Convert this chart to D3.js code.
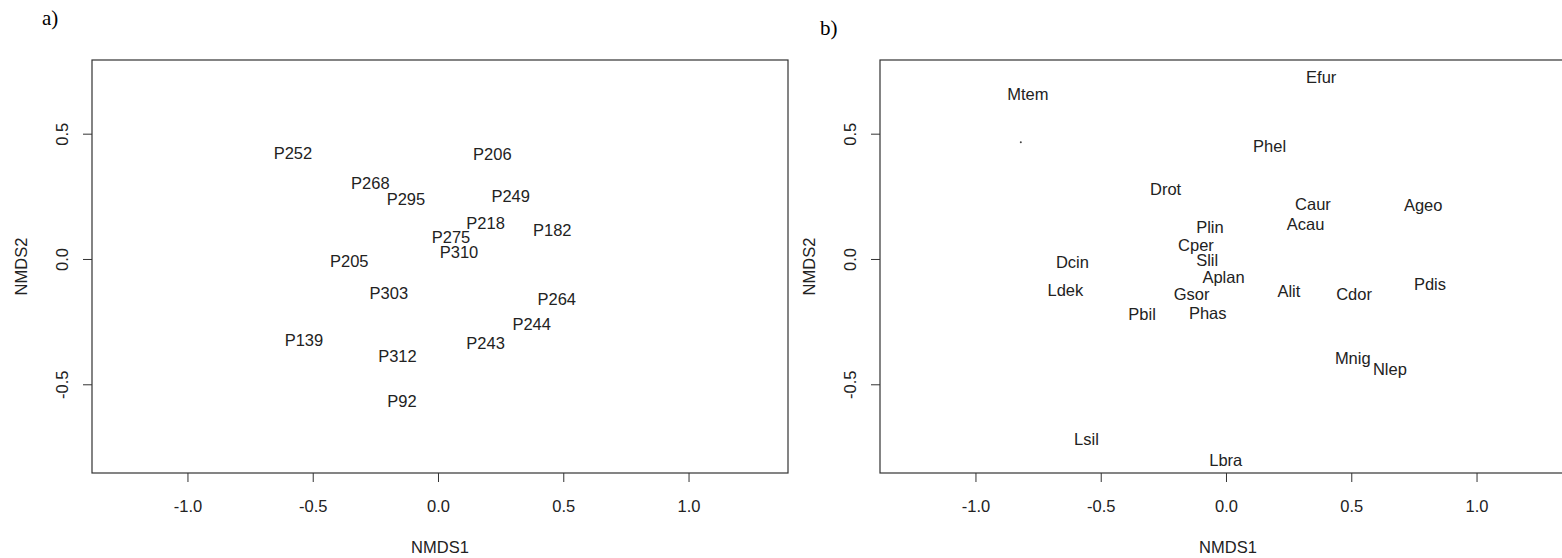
<!DOCTYPE html>
<html>
<head>
<meta charset="utf-8">
<script src="https://cdn.jsdelivr.net/npm/d3@7"></script>
<style>
  body { margin: 0; background: #fff; }
  svg { display: block; }
</style>
</head>
<body>
<div id="chart"></div>
<script>
// NMDS ordination: a) sites, b) species
const sitesNames = ['P252', 'P268', 'P295', 'P206', 'P249', 'P218', 'P275', 'P310', 'P182',
  'P205', 'P303', 'P264', 'P244', 'P243', 'P312', 'P92', 'P139'];
const sitesX = [-0.579, -0.270, -0.128, 0.217, 0.290, 0.190, 0.052, 0.084, 0.456,
  -0.354, -0.196, 0.474, 0.374, 0.190, -0.162, -0.144, -0.535];
const sitesY = [0.423, 0.301, 0.238, 0.417, 0.251, 0.145, 0.088, 0.026, 0.115,
  -0.009, -0.134, -0.158, -0.261, -0.334, -0.387, -0.567, -0.324];

const speciesNames = ['Mtem', 'Drot', 'Dcin', 'Ldek', 'Pbil', 'Lsil', 'Efur', 'Phel', 'Caur',
  'Ageo', 'Acau', 'Plin', 'Cper', 'Slil', 'Aplan', 'Gsor', 'Alit', 'Cdor', 'Pdis', 'Phas',
  'Mnig', 'Nlep', 'Lbra'];
const speciesX = [-0.791, -0.241, -0.613, -0.641, -0.335, -0.557, 0.380, 0.174, 0.347,
  0.787, 0.318, -0.064, -0.120, -0.075, -0.010, -0.137, 0.251, 0.511, 0.814, -0.073,
  0.506, 0.654, -0.001];
const speciesY = [0.660, 0.281, -0.012, -0.125, -0.220, -0.718, 0.725, 0.449, 0.218,
  0.214, 0.141, 0.128, 0.057, -0.005, -0.074, -0.138, -0.128, -0.141, -0.101, -0.214,
  -0.395, -0.441, -0.803];
// stray point drawn in panel b
const dotX = [-0.819];
const dotY = [0.466];

const xTicks = [-1.0, -0.5, 0.0, 0.5, 1.0];
const yTicks = [-0.5, 0.0, 0.5];
const xDomain = [-1.381, 1.397];
const yDomain = [-0.854, 0.794];

const W = 1562, H = 558;
const plotW = 696, plotTop = 60, plotBottom = 473;
const fontSans = '"Liberation Sans", Arial, sans-serif';

const svg = d3.select('#chart').append('svg').attr('width', W).attr('height', H);

function panel(left, tag, tagX, tagY, names, xs, ys, dx, dy) {
  const x = d3.scaleLinear().domain(xDomain).range([left, left + plotW]);
  const y = d3.scaleLinear().domain(yDomain).range([plotBottom, plotTop]);
  const g = svg.append('g');

  // x axis
  const xg = g.append('g').attr('transform', 'translate(0,' + plotBottom + ')')
    .call(d3.axisBottom(x).tickValues(xTicks).tickSize(9).tickFormat(d => d.toFixed(1)));
  xg.select('.domain').remove();
  xg.selectAll('line').attr('stroke', '#333');
  xg.selectAll('text').attr('y', 33).attr('dy', '0.35em')
    .style('font-family', fontSans).style('font-size', '16.5px').attr('fill', '#222');

  // y axis
  const yg = g.append('g').attr('transform', 'translate(' + left + ',0)')
    .call(d3.axisLeft(y).tickValues(yTicks).tickSize(9).tickFormat(d => d.toFixed(1)));
  yg.select('.domain').remove();
  yg.selectAll('line').attr('stroke', '#333');
  yg.selectAll('text').attr('x', null).attr('dy', '0.35em')
    .attr('transform', 'translate(-30,0) rotate(-90)')
    .attr('text-anchor', 'middle')
    .style('font-family', fontSans).style('font-size', '16.5px').attr('fill', '#222');

  // box
  g.append('rect').attr('x', left).attr('y', plotTop)
    .attr('width', plotW).attr('height', plotBottom - plotTop)
    .attr('fill', 'none').attr('stroke', '#333').attr('stroke-width', 1.2);

  // axis titles
  g.append('text').attr('x', left + plotW / 2).attr('y', 547).attr('dy', '0.35em')
    .attr('text-anchor', 'middle').attr('fill', '#222')
    .style('font-family', fontSans).style('font-size', '16.5px').text('NMDS1');
  g.append('text').attr('transform', 'translate(' + (left - 71) + ',' + ((plotTop + plotBottom) / 2) + ') rotate(-90)')
    .attr('dy', '0.35em').attr('text-anchor', 'middle').attr('fill', '#222')
    .style('font-family', fontSans).style('font-size', '16.5px').text('NMDS2');

  // panel tag
  g.append('text').attr('x', tagX).attr('y', tagY).attr('dy', '0.35em')
    .attr('fill', '#000').style('font-family', '"Liberation Serif", "Times New Roman", serif')
    .style('font-size', '21px').text(tag);

  // labels
  g.selectAll('text.lab').data(names).enter().append('text')
    .attr('class', 'lab')
    .attr('x', (d, i) => x(xs[i]))
    .attr('y', (d, i) => y(ys[i]))
    .attr('dy', '0.36em')
    .attr('text-anchor', 'middle')
    .attr('fill', '#222')
    .style('font-family', fontSans).style('font-size', '16.5px')
    .text(d => d);

  if (dx) {
    g.selectAll('circle.dot').data(dx).enter().append('circle')
      .attr('class', 'dot')
      .attr('cx', (d, i) => x(dx[i])).attr('cy', (d, i) => y(dy[i]))
      .attr('r', 1).attr('fill', '#444');
  }
}

panel(92, 'a)', 42, 18, sitesNames, sitesX, sitesY);
panel(880, 'b)', 820, 28, speciesNames, speciesX, speciesY, dotX, dotY);
</script>
</body>
</html>
